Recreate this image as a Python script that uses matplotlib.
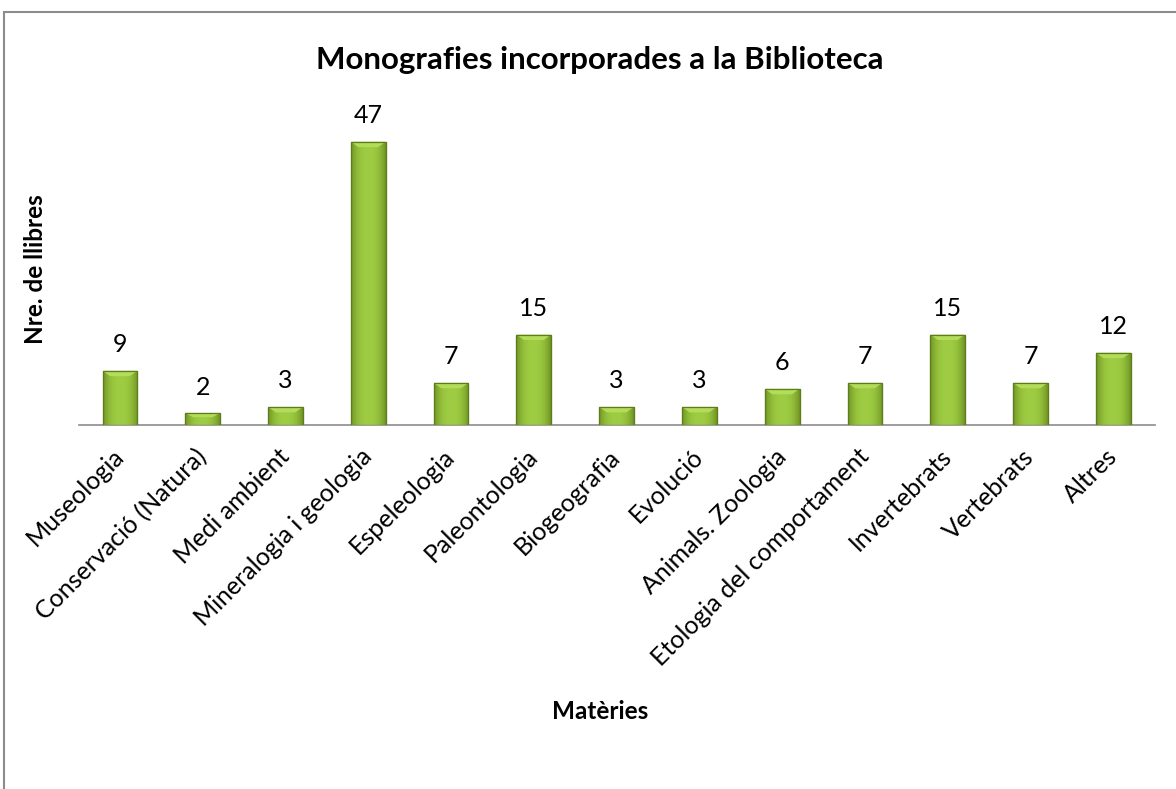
import matplotlib.pyplot as plt
from matplotlib.patches import Rectangle, Polygon
import numpy as np

categories = ["Museologia", "Conservació (Natura)", "Medi ambient",
              "Mineralogia i geologia", "Espeleologia", "Paleontologia",
              "Biogeografia", "Evolució", "Animals. Zoologia",
              "Etologia del comportament", "Invertebrats", "Vertebrats", "Altres"]
values = [9, 2, 3, 47, 7, 15, 3, 3, 6, 7, 15, 7, 12]

plt.rcParams['font.family'] = ['Lato', 'DejaVu Sans']

fig = plt.figure(figsize=(11.76, 7.89), dpi=100)
ax = fig.add_axes([0.0668, 0.4613, 0.915, 0.382])

x = np.arange(len(categories))
width = 0.42

# horizontal gradient: darker edges, lighter centre
grad = np.linspace(-1, 1, 64)
shade = 1 - np.abs(grad) ** 2.5
dark = np.array([0.44, 0.58, 0.14])
light = np.array([0.62, 0.80, 0.26])
img = dark[None, :] + (light - dark)[None, :] * shade[:, None]
img = img[None, :, :]

bars = ax.bar(x, values, width, color="#8cbb34", edgecolor="#5d7d1c", linewidth=0.8, zorder=2)
bevel = 0.9  # bevel height in data units
for b, v in zip(bars, values):
    x0 = b.get_x()
    im = ax.imshow(img, extent=(x0, x0 + width, 0, v),
                   aspect="auto", zorder=3, interpolation="bilinear")
    im.set_clip_path(b)
    bh = min(bevel, v * 0.35)
    inset = width * 0.22
    ax.add_patch(Polygon([(x0, v), (x0 + width, v), (x0 + width - inset, v - bh),
                          (x0 + inset, v - bh)], closed=True,
                         facecolor="#b2dc5a", edgecolor="none", zorder=3.5))
    ax.add_patch(Rectangle((x0, 0), width, v, fill=False,
                           edgecolor="#5d7d1c", linewidth=0.9, zorder=4))
    ax.text(x0 + width / 2, v + 2.4, str(v), ha="center", va="bottom",
            fontsize=18, color="black")

ax.set_xlim(-0.5, len(categories) - 0.5)
ax.set_ylim(0, 50)
ax.set_xticks(x)
ax.set_xticklabels(categories, rotation=45, ha="right", va="center",
                   rotation_mode="anchor", fontsize=18)
ax.tick_params(axis="x", length=0, pad=20)
ax.set_yticks([])
for s in ["top", "right", "left"]:
    ax.spines[s].set_visible(False)
ax.spines["bottom"].set_color("#8c8c8c")
ax.spines["bottom"].set_linewidth(1.2)

fig.text(0.51, 0.924, "Monografies incorporades a la Biblioteca", ha="center",
         va="center", fontsize=22.5, fontweight="bold")
fig.text(0.03, 0.659, "Nre. de llibres", rotation=90, ha="center", va="center",
         fontsize=17.5, fontweight="bold")
fig.text(0.51, 0.098, "Matèries", ha="center", va="center",
         fontsize=17.5, fontweight="bold")

fig.patches.append(Rectangle((4 / 1176, -0.05), 1.1, 1 - 12 / 789 + 0.05,
                             transform=fig.transFigure, fill=False,
                             edgecolor="#8c8c8c", linewidth=1.5))

fig.savefig("out.png", dpi=100)
